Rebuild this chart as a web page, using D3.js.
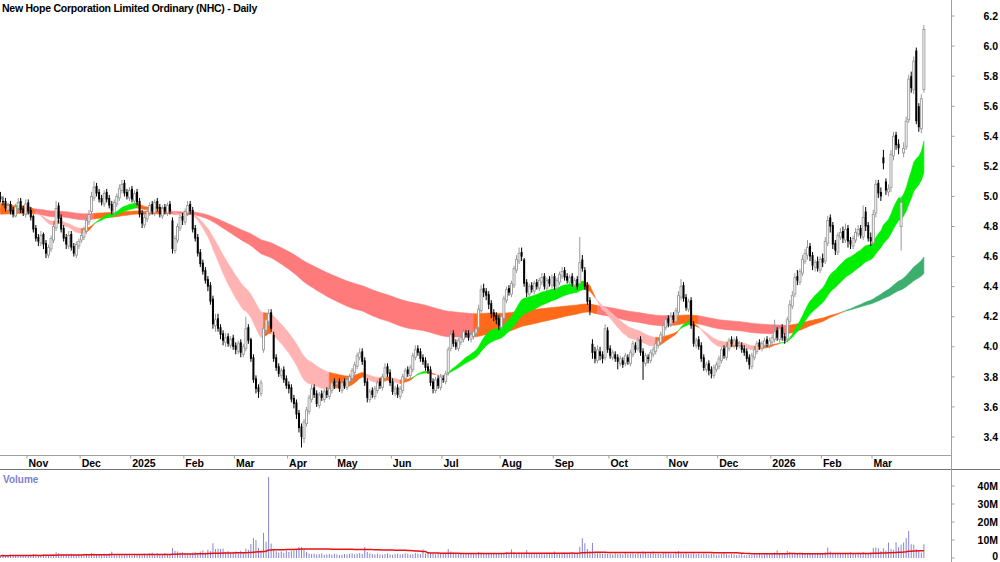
<!DOCTYPE html>
<html>
<head>
<meta charset="utf-8">
<script src="https://cdn.jsdelivr.net/npm/d3@7"></script>
<style>
body { margin: 0; background: #fff; }
svg { display: block; font-family: "Liberation Sans", Arial, sans-serif; }
.axis-label { font-size: 10.5px; font-weight: bold; fill: #000; }
.chart-name { font-size: 10.5px; font-weight: bold; fill: #000; letter-spacing: -0.25px; }
.vol-name { font-size: 10px; font-weight: bold; fill: #8080c8; }
</style>
</head>
<body>
<div id="chart"></div>
<script>
// daily prices in cents, 17 Oct 2024 .. 27 Mar 2026
const opens = [
  500,497,497,491,495,491,487,492,497,492, 488,496,491,487,479,473,469,475,469,461,
  465,471,479,494,486,479,473,467,475,467, 461,467,471,473,477,483,490,499,507,503,
  499,495,503,499,495,489,495,499,504,509, 503,499,505,497,503,497,489,481,485,489,
  495,489,497,493,487,493,489,495,484,464, 471,479,487,483,489,495,491,479,473,463,
  456,451,445,441,432,414,419,413,409,403, 407,401,406,401,397,403,395,399,413,405,
  393,379,373,369,398,411,417,423,408,393, 387,381,385,379,375,373,366,363,356,347,
  339,349,357,365,373,369,361,369,365,371, 367,371,377,375,377,371,377,373,377,379,
  383,387,393,397,391,377,365,371,367,371, 377,373,379,387,383,377,369,373,367,371,
  379,385,381,385,393,399,397,393,391,387, 385,377,371,379,373,379,377,383,399,409,
  403,399,403,405,409,409,405,407,409,413, 424,439,437,435,429,423,421,419,413,419,
  431,439,435,441,451,457,463,458,443,435, 441,437,443,439,443,447,439,445,441,447,
  439,443,447,451,447,443,447,441,445,442, 458,451,441,431,402,397,391,397,395,393,
  411,399,393,395,393,389,391,389,393,389, 395,401,399,405,397,389,393,391,395,397,
  401,403,407,413,419,415,421,417,423,433, 441,433,425,431,415,401,405,401,393,385,
  389,385,381,385,387,391,399,393,399,405, 401,405,401,401,399,397,393,387,393,397,
  403,399,401,405,401,403,405,411,405,413, 407,405,417,427,435,447,443,449,457,461,
  467,461,453,457,451,459,457,469,486,481, 469,463,473,477,471,479,471,467,471,475,
  479,473,490,481,473,469,489,509,503,526, 510,503,506,527,541,535,480,529,533,551,
  580,571,597,560,545,571
];
const highs = [
  503,500,499,496,497,493,495,499,499,494, 498,498,493,488,481,475,477,476,471,468,
  474,482,497,496,488,481,475,477,477,469, 470,472,476,480,486,491,503,510,509,505,
  501,504,505,501,497,498,502,508,511,511, 505,506,507,504,505,499,491,488,492,496,
  497,498,499,495,494,495,496,497,486,474, 482,488,489,492,497,497,493,481,475,465,
  458,453,447,443,434,422,422,415,411,409, 409,407,408,403,404,405,402,420,415,406,
  395,381,375,378,415,422,425,425,410,395, 389,386,387,381,377,375,368,365,358,349,
  352,360,368,375,375,371,370,371,372,373, 374,378,379,378,379,378,379,380,382,386,
  390,396,399,399,393,379,372,373,374,378, 379,382,389,389,385,379,374,375,374,382,
  386,387,388,396,401,401,399,395,393,389, 387,379,380,381,382,381,384,400,411,411,
  405,406,408,412,411,411,410,412,414,428, 441,442,439,437,431,425,423,421,422,434,
  440,441,444,454,461,466,466,459,445,442, 443,444,445,446,449,449,446,447,448,449,
  446,450,453,453,449,448,449,446,447,473, 461,453,443,433,405,400,401,400,397,415,
  413,401,398,397,395,394,393,396,395,398, 404,403,406,407,399,396,395,398,400,404,
  406,410,416,421,421,423,423,426,437,445, 443,435,432,433,417,406,407,403,395,390,
  391,387,388,390,394,400,401,402,406,407, 406,407,404,403,401,399,395,396,400,404,
  405,404,406,407,406,408,418,413,414,415, 409,420,431,437,449,451,452,461,465,471,
  469,463,458,460,460,462,473,487,488,483, 471,476,479,480,482,481,473,474,479,481,
  481,494,493,483,476,491,511,511,506,531, 512,508,531,543,543,538,500,536,553,581,
  583,593,599,562,568,614
];
const lows = [
  496,494,490,489,488,486,486,490,489,487, 486,488,484,476,470,467,467,465,459,459,
  463,469,477,482,476,470,465,465,464,460, 459,465,469,471,475,481,488,497,500,496,
  494,493,496,492,488,487,493,497,502,500, 498,497,496,495,494,486,479,479,483,487,
  488,487,490,486,485,488,487,488,462,462, 469,477,481,481,487,488,476,470,460,453,
  448,442,437,428,412,410,410,405,401,400, 400,399,398,395,395,393,393,397,402,390,
  376,369,366,367,396,409,414,410,390,384, 380,379,376,372,369,363,359,352,343,333,
  336,347,355,363,366,360,359,364,363,366, 365,369,372,373,370,369,372,371,375,377,
  381,385,391,388,374,363,363,366,365,369, 372,371,377,380,374,368,367,366,365,369,
  377,380,379,383,391,394,390,388,384,382, 374,369,369,372,371,376,375,381,397,400,
  398,397,401,403,406,404,403,405,407,411, 422,433,431,425,419,417,415,411,411,417,
  429,434,433,439,449,455,457,440,433,433, 436,435,438,437,441,438,437,440,439,438,
  437,441,445,444,442,441,440,439,438,440, 450,438,428,421,392,389,389,391,389,391,
  396,392,391,390,385,387,386,387,388,387, 393,396,397,394,378,387,389,389,393,395,
  399,401,405,411,413,413,416,415,421,431, 430,424,423,412,400,399,398,390,384,383,
  381,379,379,383,385,389,392,391,397,400, 399,398,399,396,394,390,385,385,391,395,
  398,397,399,400,399,401,403,404,403,404, 402,403,415,425,433,441,441,447,455,458,
  457,451,450,450,449,453,455,467,476,465, 461,461,471,469,469,466,465,465,469,473,
  472,471,477,470,467,467,486,499,497,518, 501,500,503,524,531,528,464,526,531,549,
  569,568,548,543,542,569
];
const closes = [
  498,496,492,494,490,488,493,496,491,489, 495,490,486,478,472,470,474,468,462,466,
  472,480,492,485,478,472,468,474,466,462, 468,470,474,478,484,488,500,506,502,498,
  496,502,498,494,490,496,500,505,508,502, 500,504,498,502,496,488,482,486,490,494,
  490,496,492,488,492,490,494,490,465,472, 480,486,484,490,494,490,478,472,462,455,
  450,444,440,430,415,418,412,408,404,406, 402,405,400,398,402,396,400,412,404,392,
  378,372,370,376,412,418,422,412,392,386, 382,384,378,374,372,365,362,355,346,340,
  350,358,366,372,368,362,368,366,370,368, 372,376,374,376,372,376,374,378,380,384,
  388,394,396,390,376,366,370,368,372,376, 374,380,386,382,376,370,372,368,372,380,
  384,382,386,394,398,396,392,390,386,384, 376,372,378,374,380,378,382,398,408,402,
  400,404,406,410,408,406,408,410,412,425, 438,436,434,428,422,420,418,414,420,432,
  438,436,442,452,458,462,460,442,436,440, 438,442,440,444,446,440,444,442,446,440,
  444,448,450,446,444,446,442,444,440,456, 452,440,430,424,396,392,398,394,392,412,
  398,394,396,392,390,392,388,394,390,396, 402,398,404,396,390,394,392,396,398,402,
  404,408,414,418,416,420,418,424,434,440, 432,426,430,414,402,404,400,392,386,388,
  384,382,386,388,392,398,394,400,404,402, 404,400,402,398,396,392,388,394,398,402,
  400,402,404,402,404,406,410,406,412,406, 404,418,428,434,446,444,450,458,462,466,
  460,454,456,452,458,456,470,484,480,468, 464,474,476,472,478,470,468,472,476,478,
  474,486,480,472,470,488,508,502,500,522, 504,505,528,540,534,532,496,532,550,578,
  572,590,550,546,565,611
];
// volume, millions of shares
const volumes = [
  1.2,1.5,1.0,1.3,1.8,1.2,1.4,1.6,1.1,1.3, 1.5,1.4,1.8,2.2,1.6,1.3,1.5,2.0,1.4,1.6,
  1.8,2.0,3.2,2.6,2.0,1.8,2.2,1.9,2.4,2.1, 1.8,2.0,1.6,2.2,2.4,2.0,2.8,2.5,2.2,1.9,
  2.1,2.4,2.0,2.6,3.5,2.2,1.9,2.0,1.8,1.6, 1.7,1.5,1.4,1.6,2.0,2.2,1.8,2.4,2.0,2.6,
  3.0,2.2,2.6,1.8,2.0,2.8,2.4,2.0,5.5,4.0, 3.6,3.0,3.2,2.6,2.2,2.4,3.0,3.4,2.8,3.6,
  4.2,3.0,4.6,3.8,8.2,5.0,5.2,5.0,5.2,3.4, 3.8,3.0,3.4,3.6,3.2,4.0,3.2,5.2,4.6,7.8,
  11.0,10.0,5.6,4.2,14.0,9.0,45.0,8.0,4.6,3.8, 3.0,3.6,2.8,4.0,3.4,3.8,4.2,4.6,6.2,6.0,
  5.0,3.4,2.6,2.2,2.4,2.0,2.2,2.6,1.8,2.0, 2.2,1.8,2.4,2.0,1.6,1.8,2.2,2.0,2.4,2.6,
  2.0,2.4,2.8,2.2,6.2,3.4,2.6,2.2,2.0,2.4, 2.0,1.8,2.2,2.6,2.0,1.8,2.2,2.4,2.0,2.2,
  2.6,2.4,2.0,2.2,2.8,2.4,2.2,4.8,2.6,2.8, 2.2,2.4,2.0,2.6,2.4,2.8,2.2,5.0,3.6,3.0,
  2.6,2.2,2.4,2.0,2.6,2.2,2.8,2.4,2.2,3.4, 3.0,2.8,2.4,2.6,2.2,2.4,2.2,2.6,2.4,2.8,
  3.2,2.8,4.8,3.2,2.8,3.0,2.4,2.8,4.4,2.6, 2.4,2.8,2.2,2.6,2.4,2.0,2.2,2.4,2.8,3.6,
  2.4,2.2,2.6,3.0,2.2,2.4,2.6,2.2,2.8,6.2, 11.0,8.2,5.0,3.6,8.4,3.0,2.6,2.8,2.4,2.6,
  2.2,2.4,2.0,2.6,2.2,2.4,2.0,2.8,2.2,2.4, 2.6,2.2,3.2,2.4,3.6,2.8,2.2,2.6,3.6,2.4,
  2.6,2.2,2.8,3.2,2.6,2.4,2.2,3.0,3.8,2.6, 2.4,2.8,2.2,2.4,2.6,2.2,2.4,2.0,2.6,2.2,
  2.0,2.4,2.2,1.8,2.0,2.2,2.6,2.0,1.8,2.2, 2.0,1.6,1.8,2.2,1.6,1.4,1.8,1.6,2.0,1.8,
  2.2,1.8,2.0,2.4,2.0,2.8,3.0,4.2,2.6,2.4, 2.8,4.0,3.2,2.6,2.8,2.4,2.6,3.0,2.2,2.4,
  2.6,2.2,2.4,2.8,2.2,2.6,3.2,5.8,3.6,2.8, 2.4,2.6,2.2,2.8,2.4,2.6,3.2,2.6,2.2,3.0,
  2.8,3.4,2.6,2.4,3.2,5.6,5.8,5.4,3.8,5.4, 4.2,8.6,5.0,4.6,8.6,6.0,7.4,8.6,11.0,15.0,
  7.6,7.4,5.0,4.4,3.0,7.6
];

const monthLabels = ['Nov','Dec','2025','Feb','Mar','Apr','May','Jun','Jul','Aug','Sep','Oct','Nov','Dec','2026','Feb','Mar'];
const monthStarts = [11,32,52,73,93,114,133,155,175,198,219,241,264,284,305,325,345];
const priceTicks = [3.4,3.6,3.8,4.0,4.2,4.4,4.6,4.8,5.0,5.2,5.4,5.6,5.8,6.0,6.2];
const volumeTicks = [0,10,20,30,40];

// ribbon moving averages (fast, slow), starting levels and slope look-back
const shortPeriods = [23, 38];
const longPeriods = [135, 205];
const emaSeeds = [4.95, 4.90, 4.88, 4.92];
const slopeLookback = [2, 8];

const width = 1000, height = 562;
const axisX = 951.5;

const svg = d3.select('#chart').append('svg')
	.attr('width', width)
	.attr('height', height);

const bars = closes.map((c, i) => ({
	i: i, o: opens[i] / 100, h: highs[i] / 100, l: lows[i] / 100, c: c / 100, v: volumes[i]
}));

const xScale = d3.scaleLinear()
	.domain([0, bars.length - 1])
	.range([0.43, 0.43 + (bars.length - 1) * 2.53]);

const yScale = d3.scaleLinear()
	.domain([3.4, 6.2])
	.range([437, 16]);

const vScale = d3.scaleLinear()
	.domain([0, 40])
	.range([558, 486]);

function ema(values, period, seed) {
	const k = 2 / (period + 1);
	let prev = seed;
	return values.map(v => prev = prev + k * (v - prev));
}

function bandRuns(fast, slow, lookback) {
	const state = fast.map((f, i) => {
		const up = f > fast[Math.max(0, i - lookback)];
		if (f > slow[i] && up) return 'bull';
		if (f < slow[i] && !up) return 'bear';
		return 'mid';
	});
	for (let i = 0; i < lookback; i++) state[i] = state[lookback];
	const runs = [];
	state.forEach((s, i) => {
		const last = runs[runs.length - 1];
		if (!last || last.state !== s) runs.push({ state: s, start: Math.max(0, i - 1), end: i });
		else last.end = i;
	});
	return runs;
}

function drawBand(fast, slow, lookback, colors) {
	const area = d3.area()
		.x(i => xScale(i))
		.y0(i => yScale(slow[i]))
		.y1(i => yScale(fast[i]));
	svg.append('g')
		.selectAll('path').data(bandRuns(fast, slow, lookback))
		.enter().append('path')
			.attr('d', r => area(d3.range(r.start, r.end + 1)))
			.attr('fill', r => colors[r.state])
			.attr('stroke', r => colors[r.state])
			.attr('stroke-width', 0.6);
}

const cl = bars.map(d => d.c);
const shortFast = ema(cl, shortPeriods[0], emaSeeds[0]);
const shortSlow = ema(cl, shortPeriods[1], emaSeeds[1]);
const longFast = ema(cl, longPeriods[0], emaSeeds[2]);
const longSlow = ema(cl, longPeriods[1], emaSeeds[3]);

drawBand(longFast, longSlow, slopeLookback[1], { bull: '#3cae6e', bear: '#ff7b7b', mid: '#ff6a1a' });
drawBand(shortFast, shortSlow, slopeLookback[0], { bull: '#00ee00', bear: '#ffb3b3', mid: '#ff6a1a' });

// candles
const candles = svg.append('g')
	.selectAll('g').data(bars)
	.enter().append('g');

candles.append('line')
	.attr('x1', d => xScale(d.i))
	.attr('x2', d => xScale(d.i))
	.attr('y1', d => yScale(Math.max(d.h, d.o, d.c)))
	.attr('y2', d => yScale(Math.min(d.l, d.o, d.c)))
	.attr('stroke', d => d.c >= d.o ? '#999' : '#000')
	.attr('stroke-width', 1);

candles.append('rect')
	.attr('x', d => xScale(d.i) - 1)
	.attr('width', 2)
	.attr('y', d => yScale(Math.max(d.o, d.c)))
	.attr('height', d => Math.max(1, Math.abs(yScale(d.o) - yScale(d.c))))
	.attr('fill', d => d.c >= d.o ? '#fff' : '#000')
	.attr('stroke', d => d.c >= d.o ? '#999' : 'none')
	.attr('stroke-width', 0.9);

// volume
svg.append('g')
	.selectAll('line').data(bars)
	.enter().append('line')
		.attr('x1', d => xScale(d.i))
		.attr('x2', d => xScale(d.i))
		.attr('y1', vScale(0))
		.attr('y2', d => vScale(d.v))
		.attr('stroke', '#8484d4')
		.attr('stroke-width', 1);

const volAvg = bars.map((d, i) => d3.mean(volumes.slice(Math.max(0, i - 62), i + 1)));
svg.append('path')
	.attr('d', d3.line().x((v, i) => xScale(i)).y(v => vScale(v))(volAvg))
	.attr('fill', 'none')
	.attr('stroke', '#e81010')
	.attr('stroke-width', 1.5);

// frame
svg.append('line')
	.attr('x1', 0).attr('x2', axisX)
	.attr('y1', 455.5).attr('y2', 455.5)
	.attr('stroke', '#a0a0a0');
svg.append('line')
	.attr('x1', 0).attr('x2', width)
	.attr('y1', 469.5).attr('y2', 469.5)
	.attr('stroke', '#707070');
svg.append('line')
	.attr('x1', axisX).attr('x2', axisX)
	.attr('y1', 0).attr('y2', height)
	.attr('stroke', '#a0a0a0');

// price axis
const priceAxis = svg.append('g')
	.selectAll('g').data(priceTicks)
	.enter().append('g')
		.attr('transform', d => 'translate(0,' + yScale(d) + ')');
priceAxis.append('line')
	.attr('x1', axisX).attr('x2', axisX + 3)
	.attr('stroke', '#a0a0a0');
priceAxis.append('text')
	.attr('class', 'axis-label')
	.attr('x', 998)
	.attr('dy', '0.35em')
	.attr('text-anchor', 'end')
	.text(d => d3.format('.1f')(d));

// volume axis (the zero label is nudged up so it stays inside the picture)
const volAxis = svg.append('g')
	.selectAll('g').data(volumeTicks)
	.enter().append('g')
		.attr('transform', d => 'translate(0,' + vScale(d) + ')');
volAxis.append('line')
	.attr('x1', axisX).attr('x2', axisX + 3)
	.attr('stroke', '#a0a0a0');
volAxis.append('text')
	.attr('class', 'axis-label')
	.attr('x', 998)
	.attr('dy', d => d === 0 ? '0.2em' : '0.35em')
	.attr('text-anchor', 'end')
	.text(d => d === 0 ? '0' : d + 'M');

// month axis
const months = svg.append('g')
	.selectAll('g').data(monthStarts)
	.enter().append('g')
		.attr('transform', d => 'translate(' + xScale(d - 0.5) + ',0)');
months.append('line')
	.attr('y1', 455.5).attr('y2', 458.5)
	.attr('stroke', '#a0a0a0');
months.append('text')
	.attr('class', 'axis-label')
	.attr('x', 1.5)
	.attr('y', 467)
	.text((d, i) => monthLabels[i]);

svg.append('text')
	.attr('class', 'chart-name')
	.attr('x', 2)
	.attr('y', 12)
	.text('New Hope Corporation Limited Ordinary (NHC) - Daily');

svg.append('text')
	.attr('class', 'vol-name')
	.attr('x', 3)
	.attr('y', 483)
	.text('Volume');
</script>
</body>
</html>
